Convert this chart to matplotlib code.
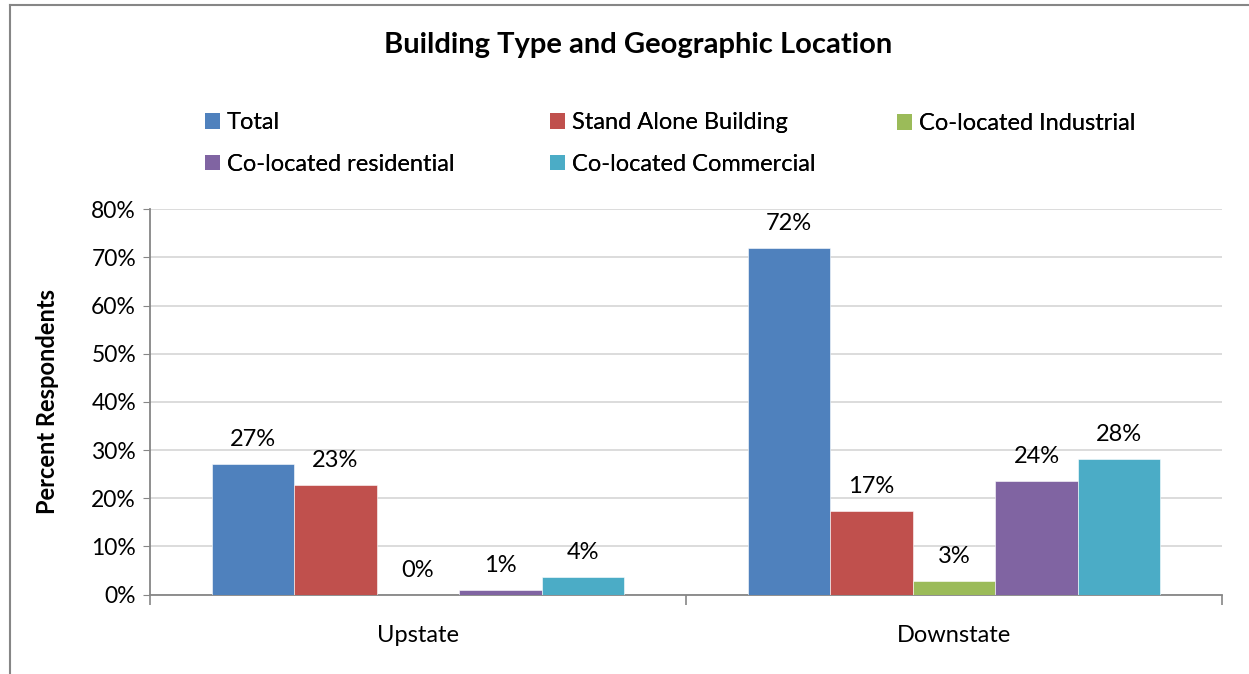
import matplotlib.pyplot as plt
import numpy as np
from matplotlib.lines import Line2D
from matplotlib.patches import Patch

plt.rcParams['font.family'] = ['Lato', 'DejaVu Sans']

regions = ["Upstate", "Downstate"]
series = ["Total", "Stand Alone Building", "Co-located Industrial",
          "Co-located residential", "Co-located Commercial"]
total = [27.2, 71.9]
stand_alone = [22.7, 17.3]
industrial = [0.0, 2.8]
residential = [0.9, 23.6]
commercial = [3.6, 28.2]
labels_up = ["27%", "23%", "0%", "1%", "4%"]
labels_down = ["72%", "17%", "3%", "24%", "28%"]
colors = ["#4F81BD", "#C0504D", "#9BBB59", "#8064A2", "#4BACC6"]
yticks = [0, 10, 20, 30, 40, 50, 60, 70, 80]

values = [total, stand_alone, industrial, residential, commercial]

fig = plt.figure(figsize=(12.49, 6.74), dpi=100)
ax = fig.add_axes([0.1201, 0.1179, 0.8583, 0.5716])

x = np.arange(len(regions))
group = 1 / 1.3
w = group / len(series)
for i, (name, vals) in enumerate(zip(series, values)):
    pos = x - group / 2 + w * (i + 0.5)
    bars = ax.bar(pos, vals, w, color=colors[i], label=name,
                  edgecolor="white", linewidth=0.4, zorder=3)
    for j, b in enumerate(bars):
        txt = labels_up[i] if j == 0 else labels_down[i]
        ax.annotate(txt, (b.get_x() + w / 2, vals[j]), xytext=(0, 10),
                    textcoords="offset points", ha="center", va="bottom",
                    fontsize=17)

ax.set_xlim(-0.5, 1.5)
ax.set_ylim(0, 80)
ax.set_yticks(yticks)
ax.set_yticklabels([f"{t}%" for t in yticks], fontsize=16.5)
ax.set_xticks(x)
ax.set_xticklabels(regions, fontsize=17)
ax.tick_params(axis="x", length=0, pad=22)
ax.tick_params(axis="y", length=5, color="#868686", pad=5)
# category boundary ticks
ax.set_xticks([-0.5, 0.5, 1.5], minor=True)
ax.tick_params(axis="x", which="minor", length=7, color="#868686", width=1.2)
ax.yaxis.grid(True, color="#D9D9D9", linewidth=1.3, zorder=0)
for s in ["top", "right"]:
    ax.spines[s].set_visible(False)
for s in ["left", "bottom"]:
    ax.spines[s].set_color("#868686")
    ax.spines[s].set_linewidth(1.3)
ax.set_ylabel("Percent Respondents", fontsize=17, fontweight="bold", labelpad=23)

fig.text(0.511, 0.933, "Building Type and Geographic Location",
         ha="center", va="center", fontsize=21, fontweight="bold")

# legend: three columns placed like the original
handles = [Patch(facecolor=c) for c in colors]
columns = [([0, 3], 205, 0.787), ([1, 4], 550, 0.787), ([2], 897, 0.8165)]
for idx, px, fy in columns:
    leg = fig.legend([handles[k] for k in idx], [series[k] for k in idx],
                     loc="center left", bbox_to_anchor=(px / 1249, fy),
                     frameon=False, fontsize=17, handlelength=0.62,
                     handleheight=0.62, handletextpad=0.3, borderpad=0,
                     borderaxespad=0, labelspacing=0.88)
    fig.add_artist(leg)

# outer chart border
fig.add_artist(Line2D([0.008, 0.008], [0, 0.993], color="#868686", lw=1.5))
fig.add_artist(Line2D([0.008, 1.0], [0.993, 0.993], color="#868686", lw=1.5))

fig.savefig("out.png", dpi=100)
